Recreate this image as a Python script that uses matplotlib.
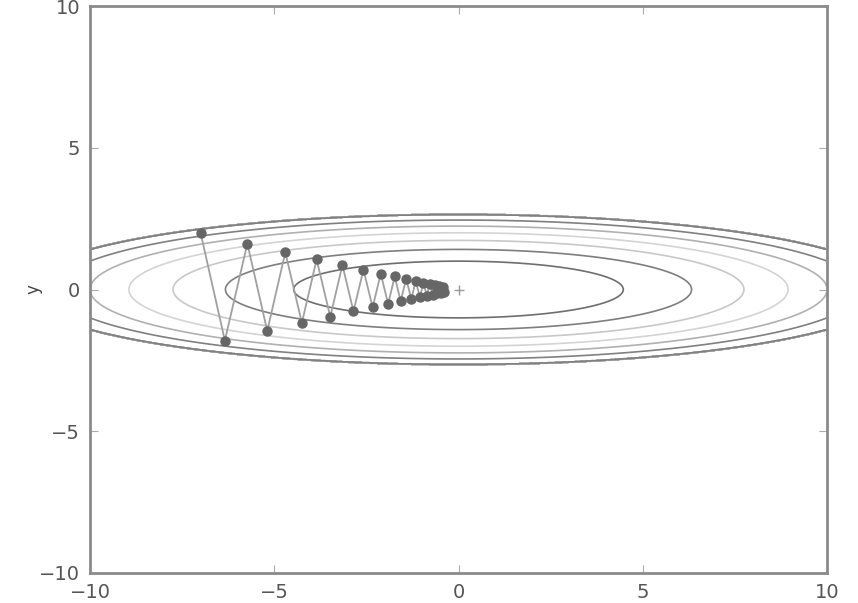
import numpy as np
import matplotlib
matplotlib.use('Agg')
import matplotlib.pyplot as plt

# SGD path (start (-7, 2))
x_hist = [-7.0, -6.34, -5.73, -5.19, -4.70, -4.25, -3.85, -3.48, -3.15, -2.85,
          -2.58, -2.33, -2.11, -1.91, -1.73, -1.57, -1.42, -1.28, -1.16, -1.05,
          -0.95, -0.86, -0.78, -0.70, -0.64, -0.58, -0.52, -0.47, -0.43, -0.39]
y_hist = [2.0, -1.80, 1.62, -1.46, 1.31, -1.18, 1.06, -0.96, 0.86, -0.77,
          0.70, -0.63, 0.56, -0.51, 0.46, -0.41, 0.37, -0.33, 0.30, -0.27,
          0.24, -0.22, 0.20, -0.18, 0.16, -0.14, 0.13, -0.12, 0.10, -0.09]

levels = [0, 1, 2, 3, 4, 5, 6, 7]
level_colors = ['#505050', '#6e6e6e', '#7e7e7e', '#c8c8c8', '#d4d4d4',
                '#b0b0b0', '#808080', '#606060']
ticks = [-10, -5, 0, 5, 10]


def f(x, y):
    return x**2 / 20.0 + y**2


x = np.arange(-10, 10, 0.01)
y = np.arange(-5, 5, 0.01)
X, Y = np.meshgrid(x, y)
Z = f(X, Y)
Z[Z > 7] = 0

plt.rcParams['xtick.direction'] = 'in'
plt.rcParams['ytick.direction'] = 'in'

fig = plt.figure(figsize=(8.58, 6.03), dpi=100)
ax = fig.add_axes([90 / 858, 1 - 573 / 603, 737 / 858, 567 / 603])

ax.contour(X, Y, Z, levels=levels, colors=level_colors, linewidths=1.2)
ax.plot(x_hist, y_hist, '-', color='#a0a0a0', linewidth=1.3)
ax.plot(x_hist, y_hist, 'o', color='#666666', markersize=6.5)
ax.plot(0, 0, '+', color='#9a9a9a', markersize=7)

ax.set_xlim(-10, 10)
ax.set_ylim(-10, 10)
ax.set_xticks(ticks)
ax.set_yticks(ticks)
ax.tick_params(top=True, right=True, color='#aaaaaa', labelcolor='#555555',
               labelsize=14, length=6, pad=7)
ax.set_ylabel('y', color='#444444', fontsize=12, labelpad=-2)
for s in ax.spines.values():
    s.set_color('#8a8a8a')
    s.set_linewidth(2)

fig.savefig('out.png', dpi=100)
